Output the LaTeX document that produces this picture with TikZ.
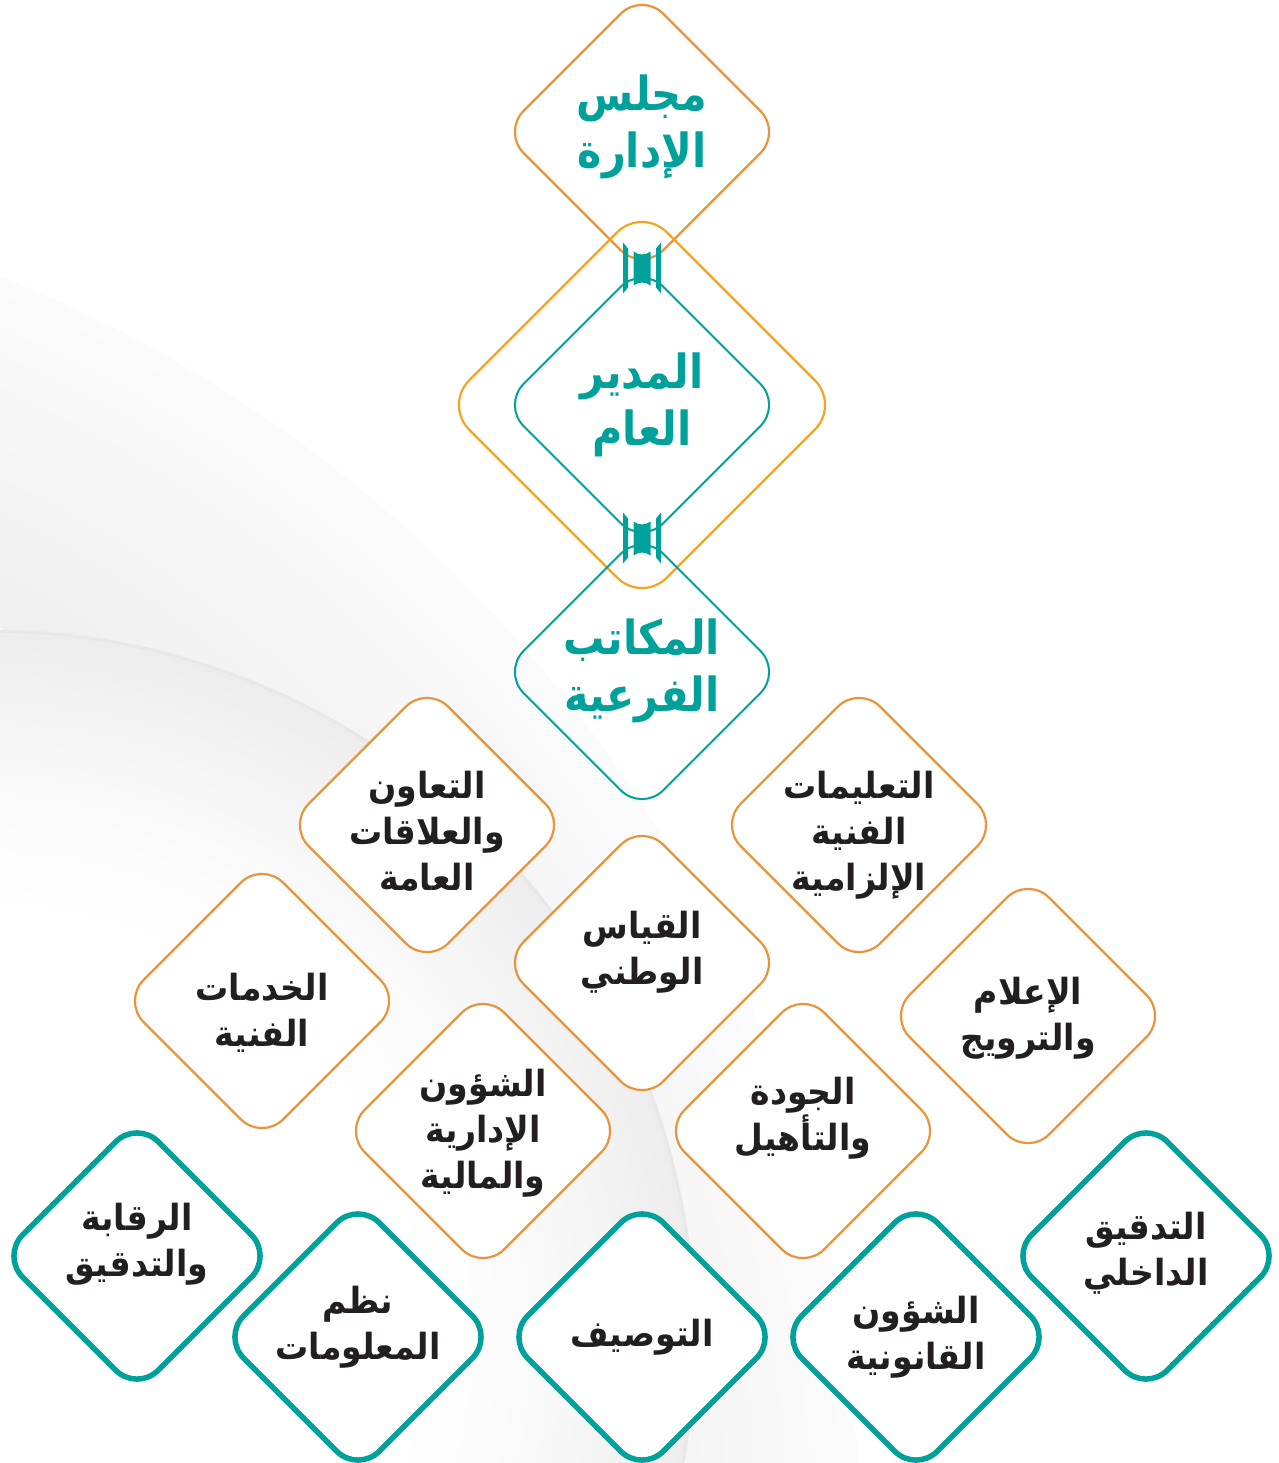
\documentclass[tikz,border=0pt]{standalone}
\usepackage{fontspec}
\TeXXeTstate=1
\newfontfamily\arabicfont[Script=Arabic, FakeStretch=0.92]{DejaVu Sans}
\newfontfamily\tealface[Script=Arabic, FakeStretch=0.88]{DejaVu Sans}
\usetikzlibrary{shapes.geometric,calc}
\definecolor{orA}{RGB}{232,148,58}
\definecolor{orB}{RGB}{244,164,32}
\definecolor{tl}{RGB}{0,161,154}
\definecolor{ink}{RGB}{35,31,32}
\newcommand\AR[1]{\beginR#1\endR}
\newcommand\tealfont{\tealface\bfseries\fontsize{47}{57}\selectfont}
\newcommand\inkfont{\arabicfont\bfseries\fontsize{36}{46}\selectfont}
\tikzset{
  dshape/.style={diamond, aspect=1, inner sep=0pt, outer sep=0pt, minimum size=#1},
  thinor/.style={dshape=279, rounded corners=30pt, draw=orA, line width=2.2pt},
  bigor/.style={dshape=395, rounded corners=35pt, draw=orB, line width=2.2pt},
  thintl/.style={dshape=279, rounded corners=30pt, draw=tl, line width=2pt},
  dept/.style={thinor, fill=white},
  unit/.style={dshape=271, rounded corners=30pt, draw=tl, line width=5.5pt, fill=white},
  tlab/.style n args={2}{label={[font=\tealfont, text=tl, align=center, yshift=#2pt]center:{#1}}},
  ilab/.style n args={2}{label={[font=\inkfont, text=ink, align=center, yshift=#2pt]center:{#1}}},
  joint/.pic={
    \fill[tl] (-19,-26) -- (-14,-20) -- (-14,19) -- (-19,25) -- cycle;
    \fill[tl] (19,-26) -- (14,-20) -- (14,19) -- (19,25) -- cycle;
    \fill[tl] (-8.5,-17) .. controls (-3,-13) and (3,-13) .. (8.5,-17)
      -- (8.5,17) .. controls (3,13) and (-3,13) .. (-8.5,17) -- cycle;
  }
}
\begin{document}
\begin{tikzpicture}[x=1pt,y=-1pt]
\useasboundingbox (0,0) rectangle (1278,1463);
% background swoosh
\begin{scope}
\clip (0,0) rectangle (1278,1463);
\foreach \r in {1050,1056,...,1365}{
  \pgfmathsetmacro\c{6-4.5*(\r-1050)/315}
  \draw[black!\c, line width=6.6pt] (-505,1545) circle[radius=\r];
}
\foreach \r in {440,446,...,704}{
  \pgfmathsetmacro\c{0.5+6.5*((\r-440)/264)^1.5}
  \draw[black!\c, line width=6.6pt] (-12,1337) circle[radius=\r];
}
\draw[black!9, line width=3pt] (-12,1337) circle[radius=706];
\end{scope}
% top hierarchy
\node[thinor, tlab={\AR{مجلس}\\\AR{الإدارة}}{5}] (board) at (642,132) {};
\node[bigor] (gmring) at (642,405) {};
\node[thintl, tlab={\AR{المدير}\\\AR{العام}}{0}] (gm) at (642,405) {};
\node[thintl, tlab={\AR{المكاتب}\\\AR{الفرعية}}{1}] (branch) at (642,672) {};
\coordinate (j1) at ($(board.south)!0.5!(gm.north)$);
\coordinate (j2) at ($(gm.south)!0.5!(branch.north)$);
\pic at (j1) {joint};
\pic at (j2) {joint};
% departments
\node[dept, ilab={\AR{التعاون}\\\AR{والعلاقات}\\\AR{العامة}}{-6}] (coop) at (427,825) {};
\node[dept, ilab={\AR{التعليمات}\\\AR{الفنية}\\\AR{الإلزامية}}{-10}] (instr) at (859,825) {};
\node[dept, ilab={\AR{القياس}\\\AR{الوطني}}{11}] (qiyas) at (642,963) {};
\node[dept, ilab={\AR{الخدمات}\\\AR{الفنية}}{-12}] (tech) at (262,1001) {};
\node[dept, ilab={\AR{الإعلام}\\\AR{والترويج}}{-2}] (media) at (1028,1016) {};
\node[dept, ilab={\AR{الشؤون}\\\AR{الإدارية}\\\AR{والمالية}}{-2}] (admin) at (483,1131) {};
\node[dept, ilab={\AR{الجودة}\\\AR{والتأهيل}}{13}] (quality) at (803,1131) {};
% units
\node[unit, ilab={\AR{الرقابة}\\\AR{والتدقيق}}{12}] (audit) at (137,1256) {};
\node[unit, ilab={\AR{نظم}\\\AR{المعلومات}}{10}] (info) at (358,1337) {};
\node[unit, ilab={\AR{التوصيف}}{0}] (desc) at (642,1337) {};
\node[unit, ilab={\AR{الشؤون}\\\AR{القانونية}}{0}] (legal) at (916,1337) {};
\node[unit, ilab={\AR{التدقيق}\\\AR{الداخلي}}{3}] (internal) at (1146,1256) {};
\end{tikzpicture}
\end{document}
